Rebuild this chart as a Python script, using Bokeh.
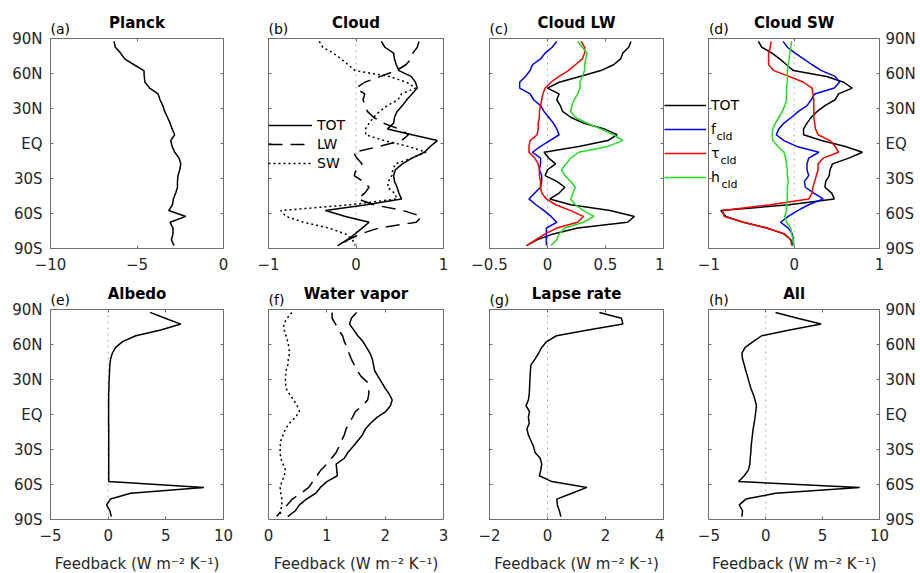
from bokeh.plotting import figure
from bokeh.models import Range1d, LinearAxis, FixedTicker, Span, Label, Legend, LegendItem
from bokeh.layouts import gridplot
from bokeh.embed import file_html
from bokeh.resources import INLINE

# ---------------- data ----------------
lat = [87.5, 82.5, 77.5, 72.5, 67.5, 62.5, 57.5, 52.5, 47.5, 42.5,
       37.5, 32.5, 27.5, 22.5, 17.5, 12.5, 7.5, 2.5, -2.5, -7.5,
       -12.5, -17.5, -22.5, -27.5, -32.5, -37.5, -42.5, -47.5, -52.5, -57.5,
       -62.5, -67.5, -72.5, -77.5, -82.5, -87.5]

lat_ticks = [-90, -60, -30, 0, 30, 60, 90]
lat_labels = ["90S", "60S", "30S", "EQ", "30N", "60N", "90N"]

planck = [-6.33, -6.25, -5.95, -5.71, -5.17, -4.60, -4.58, -4.54, -4.27, -3.78,
          -3.67, -3.51, -3.40, -3.24, -3.09, -2.97, -2.82, -3.05, -2.97, -2.82,
          -2.57, -2.47, -2.53, -2.63, -2.66, -2.66, -2.76, -2.90, -2.95, -3.17,
          -2.18, -3.09, -2.92, -2.92, -3.01, -2.86]

cloud_tot = [0.29, 0.33, 0.43, 0.44, 0.46, 0.49, 0.63, 0.68, 0.70, 0.64,
             0.58, 0.53, 0.47, 0.44, 0.43, 0.36, 0.64, 0.93, 0.85, 0.78,
             0.64, 0.53, 0.45, 0.43, 0.44, 0.47, 0.49, 0.52, 0.12, -0.35,
             -0.12, 0.15, 0.07, -0.01, -0.10, -0.21]

cloud_lw = [0.72, 0.70, 0.65, 0.63, 0.57, 0.46, 0.28, 0.10, 0.00, 0.10,
            0.08, 0.11, 0.13, 0.20, 0.31, 0.49, 0.60, 0.52, 0.27, -0.03,
            0.01, 0.07, 0.00, -0.02, 0.08, 0.15, 0.10, 0.02, 0.20, 0.54,
            0.75, 0.69, 0.26, 0.05, -0.09, -0.18]

cloud_sw = [-0.42, -0.38, -0.26, -0.17, -0.09, -0.01, 0.38, 0.58, 0.68, 0.52,
            0.48, 0.36, 0.27, 0.20, 0.15, 0.11, 0.11, 0.32, 0.60, 0.80,
            0.64, 0.45, 0.42, 0.41, 0.37, 0.36, 0.44, 0.47, -0.06, -0.86,
            -0.80, -0.60, -0.31, -0.12, -0.04, -0.01]

lw_fcld = [0.08, 0.04, -0.02, -0.06, -0.13, -0.15, -0.19, -0.24, -0.24, -0.15,
           -0.12, -0.06, -0.03, 0.01, 0.05, 0.08, 0.10, 0.02, -0.06, -0.13,
           -0.06, -0.06, -0.07, -0.05, -0.05, -0.06, -0.11, -0.16, -0.10, -0.03,
           0.03, 0.08, -0.01, -0.01, -0.01, -0.01]

lw_tau = [0.29, 0.32, 0.32, 0.30, 0.24, 0.18, 0.10, 0.03, -0.02, -0.04,
          -0.05, -0.06, -0.07, -0.07, -0.08, -0.08, -0.09, -0.15, -0.16, -0.16,
          -0.11, -0.08, -0.07, -0.07, -0.06, -0.06, -0.05, -0.01, 0.07, 0.20,
          0.31, 0.26, 0.08, -0.02, -0.10, -0.18]

lw_hcld = [0.26, 0.30, 0.34, 0.33, 0.32, 0.32, 0.30, 0.28, 0.28, 0.26,
           0.23, 0.21, 0.20, 0.24, 0.34, 0.46, 0.57, 0.65, 0.52, 0.27,
           0.20, 0.16, 0.12, 0.15, 0.20, 0.24, 0.22, 0.20, 0.24, 0.31,
           0.40, 0.31, 0.15, 0.10, 0.08, 0.03]

sw_fcld = [-0.13, -0.08, 0.01, 0.11, 0.21, 0.32, 0.48, 0.53, 0.47, 0.24,
           0.20, 0.15, 0.05, -0.03, -0.12, -0.18, -0.21, -0.12, 0.03, 0.29,
           0.17, 0.15, 0.15, 0.17, 0.12, 0.13, 0.23, 0.34, 0.17, 0.04,
           -0.07, -0.16, -0.07, -0.02, -0.01, -0.01]

sw_tau = [-0.27, -0.28, -0.30, -0.30, -0.30, -0.24, -0.06, 0.11, 0.21, 0.22,
          0.23, 0.23, 0.23, 0.23, 0.24, 0.25, 0.28, 0.42, 0.48, 0.52,
          0.34, 0.28, 0.28, 0.26, 0.24, 0.22, 0.21, 0.17, -0.28, -0.84,
          -0.82, -0.59, -0.33, -0.11, -0.04, -0.03]

sw_hcld = [-0.03, -0.04, -0.05, -0.06, -0.07, -0.08, -0.08, -0.08, -0.09, -0.09,
           -0.09, -0.11, -0.14, -0.18, -0.22, -0.25, -0.26, -0.25, -0.19, -0.12,
           -0.10, -0.09, -0.08, -0.08, -0.07, -0.08, -0.08, -0.08, -0.09, -0.09,
           -0.11, -0.09, -0.04, -0.03, -0.01, -0.01]

albedo = [3.63, 4.95, 6.30, 4.56, 2.40, 1.25, 0.65, 0.36, 0.21, 0.15,
          0.12, 0.10, 0.07, 0.07, 0.04, 0.04, 0.04, 0.04, 0.04, 0.04,
          0.05, 0.05, 0.05, 0.05, 0.05, 0.05, 0.05, 0.05, 0.05, 0.05,
          8.30, 1.95, 0.20, -0.14, 0.15, 0.27]

wv_tot = [1.51, 1.42, 1.39, 1.46, 1.53, 1.62, 1.68, 1.74, 1.78, 1.80,
          1.82, 1.88, 1.94, 2.00, 2.07, 2.12, 2.09, 2.01, 1.86, 1.75,
          1.66, 1.61, 1.53, 1.45, 1.36, 1.30, 1.16, 1.17, 1.18, 1.00,
          0.89, 0.81, 0.65, 0.53, 0.46, 0.33]

wv_lw = [1.09, 1.09, 1.15, 1.20, 1.27, 1.30, 1.35, 1.38, 1.42, 1.47,
         1.52, 1.59, 1.70, 1.72, 1.72, 1.70, 1.61, 1.49, 1.44, 1.38,
         1.33, 1.30, 1.25, 1.21, 1.16, 1.08, 1.00, 0.90, 0.83, 0.76,
         0.69, 0.56, 0.41, 0.32, 0.22, 0.14]

wv_sw = [0.40, 0.32, 0.26, 0.27, 0.30, 0.33, 0.35, 0.36, 0.34, 0.33,
         0.30, 0.29, 0.29, 0.30, 0.36, 0.43, 0.49, 0.53, 0.46, 0.36,
         0.29, 0.25, 0.21, 0.20, 0.20, 0.21, 0.25, 0.29, 0.27, 0.23,
         0.20, 0.21, 0.23, 0.23, 0.21, 0.20]

lapse = [1.79, 2.55, 2.60, 1.40, 0.31, -0.03, -0.20, -0.31, -0.43, -0.57,
         -0.59, -0.60, -0.61, -0.62, -0.63, -0.66, -0.74, -0.62, -0.66, -0.63,
         -0.71, -0.66, -0.57, -0.48, -0.43, -0.25, -0.20, -0.23, -0.28, 0.15,
         1.36, 0.84, 0.32, 0.34, 0.41, 0.46]

all_fb = [0.86, 2.80, 4.87, 2.10, -0.36, -1.11, -1.81, -2.10, -2.04, -1.89,
          -1.75, -1.60, -1.46, -1.31, -1.11, -0.94, -0.82, -0.88, -0.94, -1.02,
          -1.11, -1.17, -1.23, -1.29, -1.31, -1.37, -1.40, -1.52, -1.89, -2.39,
          8.26, 0.86, -1.75, -2.33, -2.04, -2.10]

# x axes: ranges, ticks, tick labels
planck_range, planck_ticks, planck_labels = (-10, 0), [-10, -5, 0], ["\u221210", "\u22125", "0"]
cloud_range, cloud_ticks, cloud_labels = (-1, 1), [-1, 0, 1], ["\u22121", "0", "1"]
lw_range, lw_ticks, lw_labels = (-0.5, 1), [-0.5, 0, 0.5, 1], ["\u22120.5", "0", "0.5", "1"]
sw_range, sw_ticks, sw_labels = (-1, 1), [-1, 0, 1], ["\u22121", "0", "1"]
albedo_range, albedo_ticks, albedo_labels = (-5, 10), [-5, 0, 5, 10], ["\u22125", "0", "5", "10"]
wv_range, wv_ticks, wv_labels = (0, 3), [0, 1, 2, 3], ["0", "1", "2", "3"]
lapse_range, lapse_ticks, lapse_labels = (-2, 4), [-2, 0, 2, 4], ["\u22122", "0", "2", "4"]
all_range, all_ticks, all_labels = (-5, 10), [-5, 0, 5, 10], ["\u22125", "0", "5", "10"]

xlabel_text = "Feedback (W m\u207b\u00b2 K\u207b\u00b9)"
legend_b_labels = ["TOT", "LW", "SW"]
legend_cd_labels = ["TOT", "f", "\u03c4", "h"]
legend_cd_sub = "cld"

# ---------------- style ----------------
FONT = "DejaVu Sans"
TXT = "#262626"
EDGE = "#6e6e6e"
FRAME_H = 210
# (left border, box width, right border, px of the gap left of the box that the
#  frame also covers -- used by the last column so that the shared legend of
#  (c)/(d) can sit in the gap)
COLS = [(50, 173, 23, 0), (22, 175, 23, 0), (23, 174, 1, 0), (45, 173, 36, 45)]
ROWS = [(38, 27), (34, 53)]
DASH = "14 8"
DOT = "2 3"
BLUE, RED, GREEN = "#0000ff", "#ff0000", "#22dd22"


def style_axis(ax, ticks, labels, show, standoff):
    ax.ticker = FixedTicker(ticks=ticks)
    ax.major_label_overrides = dict(zip(ticks, labels))
    ax.major_tick_in = 3
    ax.major_tick_out = 0
    ax.minor_tick_line_color = None
    ax.major_tick_line_color = EDGE
    ax.axis_line_color = None
    ax.major_label_text_font = FONT
    if show:
        ax.major_label_text_color = TXT
        ax.major_label_text_font_size = "15px"
        ax.major_label_standoff = standoff
    else:
        ax.major_label_text_color = None
        ax.major_label_text_font_size = "0px"
        ax.major_label_standoff = 0


def frame_label(p, x, y, s, size="14px"):
    """Text inside the frame, in px from the frame's lower-left corner."""
    p.add_layout(Label(x=x, y=y, x_units="screen", y_units="screen", text=s,
                       text_font=FONT, text_font_size=size, text_align="left",
                       text_baseline="middle", text_color="black"))


def side_label(p, side, xdata, ydata, s, size, style, align, baseline, color="black"):
    """Text outside the frame (in a side panel, so it is not clipped)."""
    p.add_layout(Label(x=xdata, y=ydata, text=s,
                       text_font=FONT, text_font_size=size, text_font_style=style,
                       text_align=align, text_baseline=baseline, text_color=color),
                 side)


def px_to_lat_above(dy):
    return 90 + dy / FRAME_H * 180


def px_to_lat_below(dy):
    return -90 - dy / FRAME_H * 180


def panel(col, row, xr, xt, xl, title, tag, yleft=False, yright=False, xlabel=None, zero=True):
    lb, fw, rb, ext = COLS[col]
    tb, bb = ROWS[row]
    x0 = xr[0] - ext / fw * (xr[1] - xr[0])
    p = figure(width=lb + fw + rb, height=tb + FRAME_H + bb,
               x_range=Range1d(x0, xr[1]), y_range=Range1d(-90, 90),
               output_backend="svg", toolbar_location=None, tools="",
               min_border_left=lb - ext, min_border_right=rb,
               min_border_top=tb, min_border_bottom=bb)
    p.grid.visible = False
    p.outline_line_color = EDGE
    p.outline_line_width = 1
    p.background_fill_color = "white"
    p.border_fill_color = "white"
    bottom_ax = p.xaxis[0]
    left_ax = p.yaxis[0]
    style_axis(bottom_ax, xt, xl, True, 9)
    style_axis(left_ax, lat_ticks, lat_labels, yleft, 8)
    right = LinearAxis()
    p.add_layout(right, "right")
    style_axis(right, lat_ticks, lat_labels, yright, 6)
    top = LinearAxis()
    p.add_layout(top, "above")
    style_axis(top, xt, xl, False, 0)
    if ext:
        # the box is drawn by the axis lines, limited to the box range
        p.outline_line_color = None
        left_ax.visible = False
        for ax in (bottom_ax, top):
            ax.bounds = xr
            ax.axis_line_color = EDGE
        right.axis_line_color = EDGE
        edge = LinearAxis(fixed_location=xr[0])
        style_axis(edge, lat_ticks, lat_labels, False, 0)
        edge.axis_line_color = EDGE
        p.add_layout(edge, "left")
    xmid = (xr[0] + xr[1]) / 2
    if xlabel:
        side_label(p, "below", xmid, px_to_lat_below(44), xlabel, "15px", "normal",
                   "center", "middle", TXT)
    if zero:
        p.add_layout(Span(location=0, dimension="height", line_color="#aaaaaa",
                          line_dash="dotted", line_width=1, level="underlay"))
    side_label(p, "above", xmid, px_to_lat_above(15.5), title, "15px", "bold", "center", "alphabetic")
    side_label(p, "above", xr[0], px_to_lat_above(9.5), tag, "14px", "normal", "left", "alphabetic")
    return p


def legend(labels, renderers, loc, item_h, spacing, glyph_w):
    return Legend(items=[LegendItem(label=s, renderers=[r]) for s, r in zip(labels, renderers)],
                  location=loc, padding=0, margin=0, spacing=spacing,
                  glyph_width=glyph_w, glyph_height=item_h, label_height=item_h,
                  label_standoff=5, border_line_color=None, background_fill_alpha=0,
                  label_text_font=FONT, label_text_font_size="14px",
                  label_text_color="black")


# (a) Planck
pa = panel(0, 0, planck_range, planck_ticks, planck_labels, "Planck", "(a)", yleft=True, zero=False)
pa.line(planck, lat, line_color="black", line_width=1.5)

# (b) Cloud
pb = panel(1, 0, cloud_range, cloud_ticks, cloud_labels, "Cloud", "(b)")
rb1 = pb.line(cloud_tot, lat, line_color="black", line_width=1.5)
rb2 = pb.line(cloud_lw, lat, line_color="black", line_width=1.5, line_dash=DASH)
rb3 = pb.line(cloud_sw, lat, line_color="black", line_width=1.5, line_dash=DOT)
pb.add_layout(legend(legend_b_labels, [rb1, rb2, rb3], (0, 76), 18, 1, 44))

# (c) Cloud LW
pc = panel(2, 0, lw_range, lw_ticks, lw_labels, "Cloud LW", "(c)")
pc.line(cloud_lw, lat, line_color="black", line_width=1.5)
pc.line(lw_fcld, lat, line_color=BLUE, line_width=1.5)
pc.line(lw_tau, lat, line_color=RED, line_width=1.5)
pc.line(lw_hcld, lat, line_color=GREEN, line_width=1.5)

# (d) Cloud SW
pd = panel(3, 0, sw_range, sw_ticks, sw_labels, "Cloud SW", "(d)", yright=True)
rd1 = pd.line(cloud_sw, lat, line_color="black", line_width=1.5)
rd2 = pd.line(sw_fcld, lat, line_color=BLUE, line_width=1.5)
rd3 = pd.line(sw_tau, lat, line_color=RED, line_width=1.5)
rd4 = pd.line(sw_hcld, lat, line_color=GREEN, line_width=1.5)
# shared legend of (c)/(d): samples in the gap, texts just inside the box of (d)
pd.add_layout(legend(legend_cd_labels, [rd1, rd2, rd3, rd4], (0, 61), 20, 4, 42))
frame_label(pd, 52, 112, legend_cd_sub, "11px")
frame_label(pd, 56, 88, legend_cd_sub, "11px")
frame_label(pd, 57, 64, legend_cd_sub, "11px")

# (e) Albedo
pe = panel(0, 1, albedo_range, albedo_ticks, albedo_labels, "Albedo", "(e)", yleft=True, xlabel=xlabel_text)
pe.line(albedo, lat, line_color="black", line_width=1.5)

# (f) Water vapor
pf = panel(1, 1, wv_range, wv_ticks, wv_labels, "Water vapor", "(f)", xlabel=xlabel_text, zero=False)
pf.line(wv_tot, lat, line_color="black", line_width=1.5)
pf.line(wv_lw, lat, line_color="black", line_width=1.5, line_dash=DASH)
pf.line(wv_sw, lat, line_color="black", line_width=1.5, line_dash=DOT)

# (g) Lapse rate
pg = panel(2, 1, lapse_range, lapse_ticks, lapse_labels, "Lapse rate", "(g)", xlabel=xlabel_text)
pg.line(lapse, lat, line_color="black", line_width=1.5)

# (h) All
ph = panel(3, 1, all_range, all_ticks, all_labels, "All", "(h)", yright=True, xlabel=xlabel_text)
ph.line(all_fb, lat, line_color="black", line_width=1.5)

grid = gridplot([[pa, pb, pc, pd], [pe, pf, pg, ph]], toolbar_location=None)

open("out.html", "w").write(file_html(grid, INLINE, title="Feedbacks"))
